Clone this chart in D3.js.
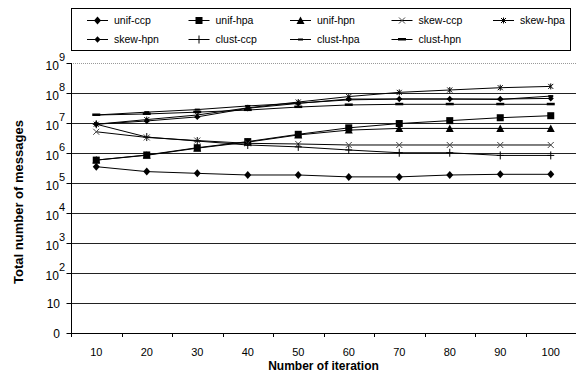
<!DOCTYPE html>
<html>
<head>
<meta charset="utf-8">
<script src="https://cdn.jsdelivr.net/npm/d3@7"></script>
<style>
  body { margin: 0; background: #fff; }
  svg text { font-family: "Liberation Sans", Arial, sans-serif; fill: #000; }
</style>
</head>
<body>
<svg id="chart" width="579" height="374"></svg>
<script>
// Iteration counts on the x axis
const iterations = ["10", "20", "30", "40", "50", "60", "70", "80", "90", "100"];

// Total number of messages per strategy
const unifCcp  = [3.5e5, 2.4e5, 2.1e5, 1.85e5, 1.85e5, 1.6e5, 1.6e5, 1.85e5, 1.95e5, 1.95e5];
const unifHpa  = [5.8e5, 8.6e5, 1.5e6, 2.4e6, 4.2e6, 6.9e6, 9.6e6, 1.2e7, 1.5e7, 1.75e7];
const unifHpn  = [5.8e5, 8.4e5, 1.45e6, 2.3e6, 4.0e6, 5.8e6, 6.6e6, 6.6e6, 6.6e6, 6.6e6];
const skewCcp  = [5.1e6, 3.3e6, 2.6e6, 2.1e6, 2.0e6, 1.85e6, 1.85e6, 1.85e6, 1.85e6, 1.85e6];
const skewHpa  = [9.1e6, 1.3e7, 1.85e7, 3.2e7, 5.0e7, 7.6e7, 1.05e8, 1.26e8, 1.5e8, 1.66e8];
const skewHpn  = [9.1e6, 1.17e7, 1.6e7, 3.1e7, 4.5e7, 6.3e7, 6.3e7, 6.3e7, 6.3e7, 6.6e7];
const clustCcp = [9.1e6, 3.4e6, 2.5e6, 1.85e6, 1.6e6, 1.26e6, 1.02e6, 1.02e6, 8.3e5, 8.3e5];
const clustHpa = [1.85e7, 2.3e7, 2.8e7, 3.7e7, 4.6e7, 5.9e7, 6.3e7, 6.3e7, 6.1e7, 7.9e7];
const clustHpn = [1.85e7, 2.0e7, 2.3e7, 2.7e7, 3.4e7, 4.0e7, 4.2e7, 4.2e7, 4.2e7, 4.2e7];

// Y axis ticks: value, base text, exponent text
const yTickValues = [1, 1e1, 1e2, 1e3, 1e4, 1e5, 1e6, 1e7, 1e8, 1e9];
const yTickBase   = ["0", "10", "10", "10", "10", "10", "10", "10", "10", "10"];
const yTickExp    = ["", "", "2", "3", "4", "5", "6", "7", "8", "9"];

const seriesNames = ["unif-ccp", "unif-hpa", "unif-hpn", "skew-ccp", "skew-hpa",
                     "skew-hpn", "clust-ccp", "clust-hpa", "clust-hpn"];
const seriesValues = [unifCcp, unifHpa, unifHpn, skewCcp, skewHpa,
                      skewHpn, clustCcp, clustHpa, clustHpn];
const seriesMarkers = ["diamond", "square", "triangle", "cross", "star",
                       "smallDiamond", "plus", "dash", "bar"];

const series = seriesNames.map((name, i) => ({
  name, marker: seriesMarkers[i],
  points: seriesValues[i].map((v, j) => ({ x: iterations[j], y: v }))
}));

const svg = d3.select("#chart");
const plotLeft = 71, plotRight = 576, plotTop = 63, plotBottom = 333;

const x = d3.scaleBand().domain(iterations).range([plotLeft, plotRight]);
const y = d3.scaleLog().domain([1, 1e9]).range([plotBottom, plotTop]);

// Horizontal gridlines (top one dotted)
svg.append("g").selectAll("line")
  .data(yTickValues)
  .join("line")
  .attr("x1", plotLeft).attr("x2", plotRight)
  .attr("y1", d => Math.round(y(d)) + 0.5).attr("y2", d => Math.round(y(d)) + 0.5)
  .attr("stroke", (d, i) => i === yTickValues.length - 1 ? "#999" : "#222")
  .attr("stroke-dasharray", (d, i) => i === yTickValues.length - 1 ? "1,1" : null)
  .attr("stroke-width", 1);

// Y axis
const yAxis = d3.axisLeft(y).tickValues(yTickValues).tickSize(5).tickFormat("");
const gy = svg.append("g").attr("transform", `translate(${plotLeft + 0.5},0)`).call(yAxis);
gy.select(".domain").attr("stroke", "#000").attr("d", `M0,${plotTop}V${plotBottom + 0.5}`);
gy.selectAll(".tick line").attr("stroke", "#000");

// Y tick labels with superscript exponents
const yLabels = svg.append("g").selectAll("text")
  .data(yTickValues)
  .join("text")
  .attr("font-size", 12)
  .attr("text-anchor", "end")
  .attr("x", (d, i) => yTickExp[i] ? 65 : 60)
  .attr("y", d => y(d) + 5);
yLabels.append("tspan").text((d, i) => yTickBase[i]).attr("dy", (d, i) => yTickExp[i] ? 2 : 0);
yLabels.append("tspan").text((d, i) => yTickExp[i])
  .attr("font-size", 11).attr("dy", -9);

// X axis
const xAxis = d3.axisBottom(x).tickSize(0).tickPadding(15);
const gx = svg.append("g").attr("transform", `translate(0,${plotBottom + 0.5})`).call(xAxis);
gx.select(".domain").attr("stroke", "#000").attr("d", `M${plotLeft},0H${plotRight}`);
gx.selectAll(".tick text").attr("font-size", 11).attr("font-family", "Liberation Sans, Arial, sans-serif");
// Tick marks at category boundaries
svg.append("g").selectAll("line")
  .data(iterations)
  .join("line")
  .attr("x1", d => Math.round(x(d)) + 0.5).attr("x2", d => Math.round(x(d)) + 0.5)
  .attr("y1", plotBottom).attr("y2", plotBottom + 4)
  .attr("stroke", "#000");

// Axis titles
svg.append("text")
  .attr("x", (plotLeft + plotRight) / 2).attr("y", 370)
  .attr("text-anchor", "middle").attr("font-size", 12).attr("font-weight", "bold")
  .text("Number of iteration");
svg.append("text")
  .attr("transform", "translate(23,202) rotate(-90)")
  .attr("text-anchor", "middle").attr("font-size", 13).attr("font-weight", "bold")
  .text("Total number of messages");

// Marker drawing
function drawMarker(g, type) {
  switch (type) {
    case "diamond":
      g.append("path").attr("d", "M0,-4L3.5,0L0,4L-3.5,0Z").attr("fill", "#000"); break;
    case "smallDiamond":
      g.append("path").attr("d", "M0,-3.2L3,0L0,3.2L-3,0Z").attr("fill", "#000"); break;
    case "square":
      g.append("rect").attr("x", -3.5).attr("y", -3.5).attr("width", 7).attr("height", 7).attr("fill", "#000"); break;
    case "triangle":
      g.append("path").attr("d", "M0,-4L4,3.5L-4,3.5Z").attr("fill", "#000"); break;
    case "cross":
      g.append("path").attr("d", "M-3,-3L3,3M-3,3L3,-3").attr("stroke", "#444").attr("stroke-width", 1).attr("fill", "none"); break;
    case "star":
      g.append("path").attr("d", "M-2.5,-2.5L2.5,2.5M-2.5,2.5L2.5,-2.5M0,-3V3").attr("stroke", "#000").attr("stroke-width", 1).attr("fill", "none"); break;
    case "plus":
      g.append("path").attr("d", "M0,-4V4M-3.5,0H3.5").attr("stroke", "#000").attr("stroke-width", 1).attr("fill", "none"); break;
    case "dash":
      g.append("rect").attr("x", -2.5).attr("y", -1).attr("width", 5).attr("height", 2).attr("fill", "#000"); break;
    case "bar":
      g.append("rect").attr("x", -4).attr("y", -1.5).attr("width", 8).attr("height", 2.5).attr("fill", "#000"); break;
  }
}

const line = d3.line()
  .x(d => x(d.x) + x.bandwidth() / 2)
  .y(d => y(d.y));

const plot = svg.append("g");
series.forEach(s => {
  plot.append("path")
    .attr("d", line(s.points))
    .attr("fill", "none").attr("stroke", "#000").attr("stroke-width", 1);
});
series.forEach(s => {
  s.points.forEach(p => {
    const g = plot.append("g")
      .attr("transform", `translate(${x(p.x) + x.bandwidth() / 2},${y(p.y)})`);
    drawMarker(g, s.marker);
  });
});

// Legend
const legend = svg.append("g");
legend.append("rect")
  .attr("x", 71.5).attr("y", 8.5).attr("width", 499).attr("height", 42)
  .attr("fill", "#fff").attr("stroke", "#000");
series.forEach((s, i) => {
  const col = i % 5, row = Math.floor(i / 5);
  const lx = 87 + col * 101.5, ly = 20 + row * 19;
  const item = legend.append("g").attr("transform", `translate(${lx},${ly})`);
  item.append("line").attr("x1", 0).attr("x2", 21).attr("y1", 0.5).attr("y2", 0.5)
    .attr("stroke", "#000");
  drawMarker(item.append("g").attr("transform", "translate(10.5,0.5)"), s.marker);
  item.append("text").attr("x", 27).attr("y", 4).attr("font-size", 10.5).text(s.name);
});
</script>
</body>
</html>
